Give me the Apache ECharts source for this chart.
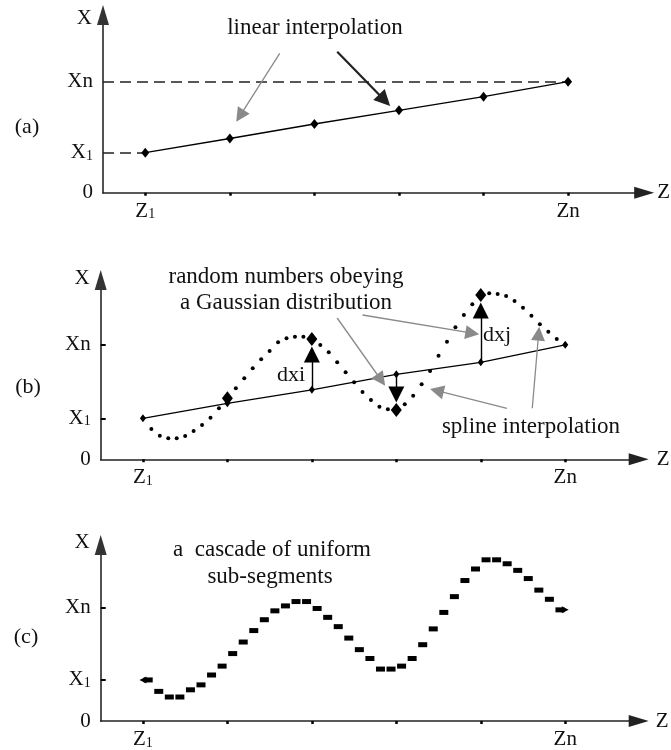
<!DOCTYPE html>
<html>
<head>
<meta charset="utf-8">
<script src="https://cdn.jsdelivr.net/npm/echarts@6/dist/echarts.min.js"></script>
<style>
  html, body { margin: 0; padding: 0; background: #fff; }
  #chart { width: 671px; height: 750px; }
</style>
</head>
<body>
<div id="chart"></div>
<script>
// Z positions of the nodes Z1..Zn
const zNodes = [1, 2, 3, 4, 5, 6];

// (a) linear interpolation
const levelsA = [4.0, 11.1];               // X1, Xn
const lineA = [4.0, 5.42, 6.87, 8.24, 9.6, 11.1];

// (b) spline through perturbed nodes, one dot every 0.1 Z
const levelsB = [4.1, 11.5];
const lineB = [4.1, 5.6, 6.95, 8.5, 9.7, 11.45];
const splineStep = 0.1;
const splineB = [
  4.1, 3.03, 2.36, 2.1, 2.1, 2.33, 2.83, 3.43, 4.16, 5.1,
  6.1, 7.1, 8.1, 9.1, 10.0, 10.83, 11.7, 12.1, 12.26, 12.26,
  12.03, 11.43, 10.7, 9.7, 8.7, 7.7, 6.73, 5.93, 5.26, 5.0,
  4.93, 5.5, 6.36, 7.5, 8.83, 10.36, 11.76, 13.2, 14.43, 15.5,
  16.43, 16.6, 16.53, 16.33, 15.83, 15.16, 14.36, 13.5, 12.76, 12.03,
  11.43
];
const dxNodes = [3, 4, 5];

// (c) cascade of uniform sub-segments
const levelsC = [4.16, 11.5];
const segStep = 0.125;
const stepsC = [
  4.16, 3.0, 2.43, 2.43, 3.16, 3.66, 4.66, 5.56, 6.83, 8.0,
  9.16, 10.26, 11.16, 11.66, 12.1, 12.1, 11.4, 10.5, 9.56, 8.4,
  7.23, 6.33, 5.26, 5.26, 5.56, 6.33, 7.73, 9.33, 11.0, 12.6,
  14.23, 15.4, 16.33, 16.33, 15.93, 15.26, 14.43, 13.26, 12.33, 11.26
];

// pointer arrows of the annotations, [from, to] in (Z, X)
const pointersA = [
  { coords: [[2.59, 13.94], [2.12, 7.69]], dark: false },
  { coords: [[3.27, 14.1], [3.83, 9.25]], dark: true }
];
const pointersB = [
  [[3.30, 14.13], [3.82, 7.93]],
  [[3.60, 14.43], [4.90, 12.61]],
  [[5.31, 5.1], [4.48, 6.86]],
  [[5.61, 5.1], [5.685, 12.56]]
];

const FONT = '"Liberation Serif", "Times New Roman", serif';
const INK = '#000';
const TXT = '#111';
const GRAY = '#8a8a8a';

const rich = {
  b: { fontSize: 21, fontFamily: FONT, color: TXT },
  s: { fontSize: 14, fontFamily: FONT, color: TXT, verticalAlign: 'bottom' }
};

function xAxisFor(gi, max, gap) {
  return {
    type: 'value', gridIndex: gi, min: 0.5, max: max,
    name: 'Z', nameLocation: 'end', nameGap: gap,
    nameTextStyle: { fontSize: 21, fontFamily: FONT, color: TXT, align: 'left', verticalAlign: 'middle' },
    axisLine: { lineStyle: { color: '#222', width: 1.7 }, symbol: ['none', 'triangle'], symbolSize: [12, 20] },
    axisTick: { customValues: zNodes, length: 3, lineStyle: { color: INK, width: 2.5 } },
    axisLabel: {
      customValues: [zNodes[0], zNodes[zNodes.length - 1]], margin: 8,
      fontSize: 21, fontFamily: FONT, color: TXT, rich: rich,
      formatter: v => v === zNodes[0] ? '{b|Z}{s|1}' : 'Zn'
    },
    splitLine: { show: false }
  };
}

function yAxisFor(gi, max, levels, ticks, gap) {
  return {
    type: 'value', gridIndex: gi, min: 0, max: max,
    name: 'X', nameLocation: 'end', nameGap: gap,
    nameTextStyle: { fontSize: 21, fontFamily: FONT, color: TXT, align: 'right', verticalAlign: 'middle', padding: [0, 11, 0, 0] },
    axisLine: { lineStyle: { color: '#333', width: 1.7 }, symbol: ['none', 'triangle'], symbolSize: [12, 20] },
    axisTick: { show: ticks, customValues: levels, inside: true, length: 5, lineStyle: { color: INK, width: 2 } },
    axisLabel: {
      customValues: [0, levels[0], levels[1]], margin: 10,
      fontSize: 21, fontFamily: FONT, color: TXT, rich: rich,
      formatter: v => v === 0 ? '0' : (v === levels[0] ? '{b|X}{s|1}' : 'Xn')
    },
    splitLine: { show: false }
  };
}

function arrowSeries(gi, data, color, width, head) {
  return {
    type: 'lines', coordinateSystem: 'cartesian2d', xAxisIndex: gi, yAxisIndex: gi,
    symbol: ['none', 'triangle'], symbolSize: head,
    lineStyle: { color: color, width: width, opacity: 1 },
    data: data.map(c => ({ coords: c })), z: 5
  };
}

// (b) node-to-spline arrows, ending just short of the spline node
const dxArrows = dxNodes.map(z => {
  const from = lineB[z - 1];
  const node = splineB[Math.round((z - 1) / splineStep)];
  const dir = node > from ? 1 : -1;
  return [[z, from], [z, node - dir * 1.55]];
});

const series = [
  // (a)
  {
    type: 'lines', coordinateSystem: 'cartesian2d', xAxisIndex: 0, yAxisIndex: 0,
    lineStyle: { color: '#222', width: 1.5, type: [11, 6], opacity: 1 },
    data: [
      { coords: [[0.5, levelsA[1]], [zNodes[5], levelsA[1]]] },
      { coords: [[0.5, levelsA[0]], [zNodes[0], levelsA[0]]] }
    ]
  },
  {
    type: 'line', xAxisIndex: 0, yAxisIndex: 0,
    data: zNodes.map((z, i) => [z, lineA[i]]),
    symbol: 'diamond', symbolSize: [8, 10], showSymbol: true,
    itemStyle: { color: INK, opacity: 1 }, lineStyle: { color: INK, width: 1.3 }, z: 4
  },
  arrowSeries(0, pointersA.filter(p => !p.dark).map(p => p.coords), GRAY, 1.3, [8, 14]),
  arrowSeries(0, pointersA.filter(p => p.dark).map(p => p.coords), '#222', 2.2, [10, 16]),

  // (b)
  {
    type: 'line', xAxisIndex: 1, yAxisIndex: 1,
    data: zNodes.map((z, i) => [z, lineB[i]]),
    symbol: 'diamond', symbolSize: [6, 8], showSymbol: true,
    itemStyle: { color: INK, opacity: 1 }, lineStyle: { color: INK, width: 1.3 }, z: 3
  },
  {
    type: 'scatter', xAxisIndex: 1, yAxisIndex: 1,
    data: splineB.map((v, i) => [zNodes[0] + i * splineStep, v]),
    symbol: 'circle', symbolSize: 4, itemStyle: { color: INK, opacity: 1 }, z: 3
  },
  {
    type: 'scatter', xAxisIndex: 1, yAxisIndex: 1,
    data: zNodes.slice(1, 5).map(z => [z, splineB[Math.round((z - 1) / splineStep)]]),
    symbol: 'diamond', symbolSize: [11, 14], itemStyle: { color: INK, opacity: 1 }, z: 4
  },
  arrowSeries(1, dxArrows, INK, 1.4, [9, 16]),
  arrowSeries(1, pointersB, GRAY, 1.3, [8, 14]),

  // (c)
  {
    type: 'scatter', xAxisIndex: 2, yAxisIndex: 2,
    data: stepsC.map((v, k) => [zNodes[0] + (k + 0.5) * segStep, v]),
    symbol: 'rect', symbolSize: [9, 5], itemStyle: { color: INK, opacity: 1 }
  },
  {
    type: 'scatter', xAxisIndex: 2, yAxisIndex: 2,
    data: [
      { value: [zNodes[0], stepsC[0]], symbolRotate: 90 },
      { value: [zNodes[5], stepsC[stepsC.length - 1]], symbolRotate: -90 }
    ],
    symbol: 'triangle', symbolSize: [7, 7], itemStyle: { color: INK, opacity: 1 }
  }
];

function txt(text, x, y, size) {
  return {
    type: 'text', x: x, y: y, silent: true,
    style: { text: text, font: size + 'px ' + FONT, fill: TXT, align: 'center', verticalAlign: 'middle' }
  };
}

const option = {
  animation: false,
  backgroundColor: '#fff',
  grid: [
    { left: 103, top: 15, width: 541.4, height: 177.7 },
    { left: 100.7, top: 280, width: 538, height: 179.3 },
    { left: 100.7, top: 545, width: 538, height: 178.3 }
  ],
  xAxis: [xAxisFor(0, 6.9, 13), xAxisFor(1, 6.87, 18), xAxisFor(2, 6.87, 17)],
  yAxis: [
    yAxisFor(0, 17.77, levelsA, false, -3),
    yAxisFor(1, 17.93, levelsB, true, 2),
    yAxisFor(2, 17.83, levelsC, true, 3)
  ],
  series: series,
  graphic: [
    txt('(a)', 27, 127, 22),
    txt('(b)', 28, 387, 22),
    txt('(c)', 26, 637, 22),
    txt('linear interpolation', 315, 28, 23),
    txt('random numbers obeying', 286, 277, 23),
    txt('a Gaussian distribution', 286, 303, 23),
    txt('spline interpolation', 531, 427, 23),
    txt('dxi', 291, 375, 22),
    txt('dxj', 497, 335, 22),
    txt('a  cascade of uniform', 272, 550, 23),
    txt('sub-segments', 270, 577, 23)
  ]
};

const chart = echarts.init(document.getElementById('chart'));
chart.setOption(option);
</script>
</body>
</html>
